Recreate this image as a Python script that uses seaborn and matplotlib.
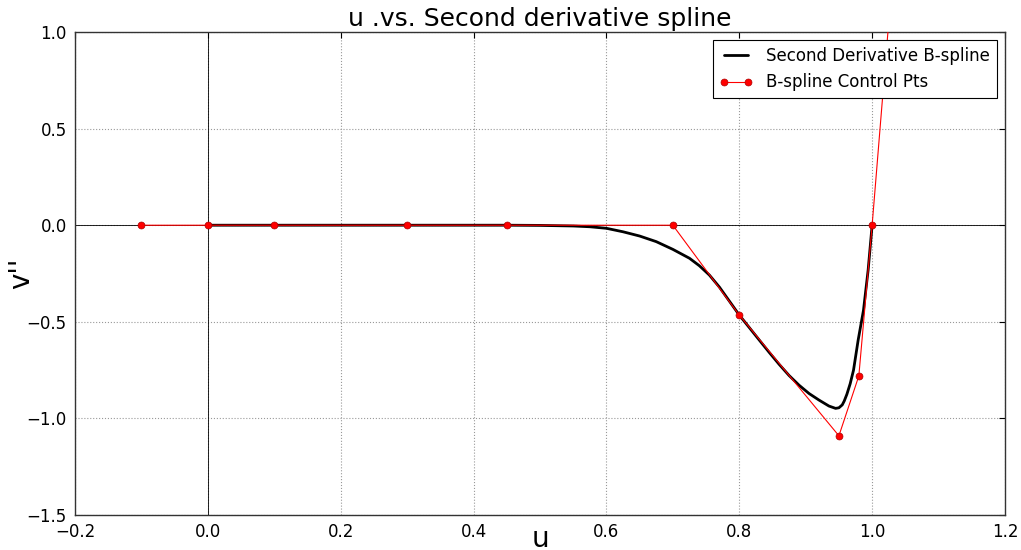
import matplotlib
matplotlib.use("Agg")
import matplotlib.pyplot as plt
import seaborn as sns
import pandas as pd

# Second derivative B-spline curve
curve_u = [0.0, 0.45, 0.50, 0.55, 0.575, 0.60, 0.625, 0.65, 0.675, 0.70, 0.725,
           0.74, 0.755, 0.77, 0.80, 0.83, 0.845, 0.86, 0.875, 0.89, 0.905, 0.92, 0.935,
           0.945, 0.95, 0.955, 0.958, 0.962, 0.967, 0.972, 0.979, 0.987, 0.994, 1.0]
curve_v = [0.0, 0.0, -0.001, -0.004, -0.008, -0.016, -0.034, -0.056, -0.085, -0.125,
           -0.171, -0.21, -0.258, -0.32, -0.465, -0.594, -0.658, -0.72, -0.778, -0.828,
           -0.871, -0.905, -0.936, -0.948, -0.945, -0.93, -0.91, -0.875, -0.82,
           -0.75, -0.594, -0.44, -0.232, 0.0]

# B-spline control points
ctrl_u = [-0.1, 0.0, 0.1, 0.3, 0.45, 0.7, 0.8, 0.95, 0.98, 1.0, 1.05]
ctrl_v = [0.0, 0.0, 0.0, 0.0, 0.0, 0.0, -0.465, -1.09, -0.78, 0.0, 2.1]

sns.set_style("white")
plt.rcParams['font.family'] = ['DejaVu Sans']
plt.rcParams.update({"text.color": "black", "axes.labelcolor": "black",
                     "xtick.color": "black", "ytick.color": "black"})

fig = plt.figure(figsize=(10.21, 5.5), dpi=100)
ax = fig.add_axes([0.0735, 0.0636, 0.9108, 0.8782])

df_curve = pd.DataFrame({"u": curve_u, "v": curve_v})
df_ctrl = pd.DataFrame({"u": ctrl_u, "v": ctrl_v})

ax.axhline(0, color="black", lw=0.6, zorder=1)
ax.axvline(0, color="black", lw=0.6, zorder=1)

sns.lineplot(data=df_curve, x="u", y="v", ax=ax, color="black", lw=2,
             sort=False, estimator=None, label="Second Derivative B-spline", zorder=3)
sns.lineplot(data=df_ctrl, x="u", y="v", ax=ax, color="red", lw=0.8,
             marker="o", markersize=5, markerfacecolor="red",
             markeredgecolor="#aa0000", markeredgewidth=0.5,
             sort=False, estimator=None, label="B-spline Control Pts", zorder=4)

ax.set_xlim(-0.2, 1.2)
ax.set_ylim(-1.5, 1.0)
ax.set_xticks([-0.2, 0.0, 0.2, 0.4, 0.6, 0.8, 1.0, 1.2])
ax.set_yticks([-1.5, -1.0, -0.5, 0.0, 0.5, 1.0])
ax.set_xticklabels(["\u22120.2", "0.0", "0.2", "0.4", "0.6", "0.8", "1.0", "1.2"])
ax.set_yticklabels(["\u22121.5", "\u22121.0", "\u22120.5", "0.0", "0.5", "1.0"])
ax.tick_params(direction="in", length=4, width=0.8, labelsize=12,
               top=True, right=True, color="black", pad=6)
ax.grid(True, linestyle=":", color="#999999", lw=0.8)
for s in ax.spines.values():
    s.set_color("#333333")
    s.set_linewidth(1.0)

ax.set_title("u .vs. Second derivative spline", fontsize=18, pad=4)
ax.set_xlabel("u", fontsize=20)
ax.set_ylabel("v''", fontsize=20)
ax.xaxis.set_label_coords(0.5, -0.021)
ax.yaxis.set_label_coords(-0.043, 0.5)

leg = ax.legend(loc="upper right", fontsize=12, numpoints=2, fancybox=False,
                framealpha=1, edgecolor="black", borderaxespad=0.5)
leg.get_frame().set_linewidth(0.8)

fig.savefig("out.png", dpi=100)
